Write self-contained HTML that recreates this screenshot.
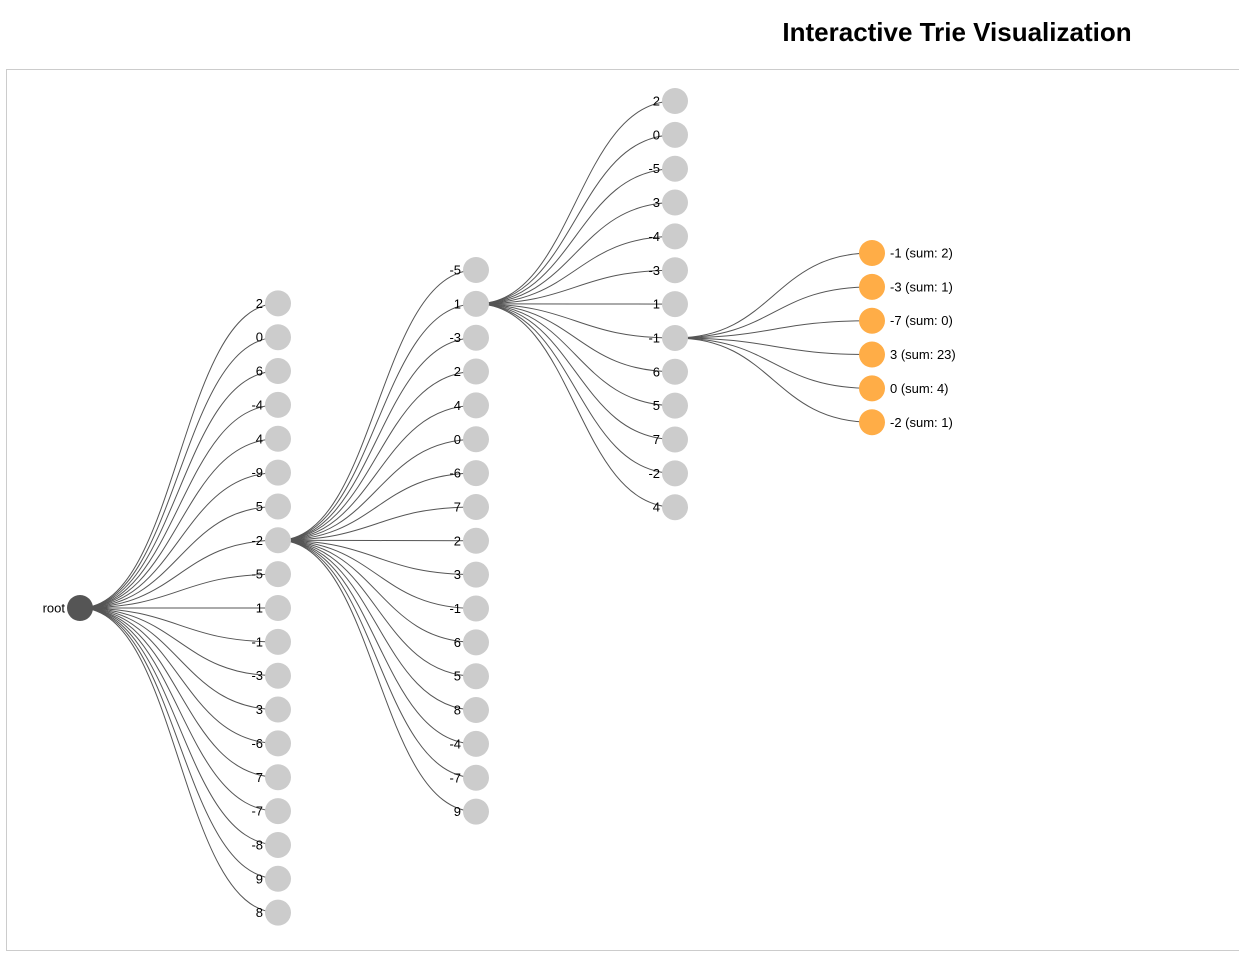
<!DOCTYPE html>
<html><head><meta charset="utf-8"><style>
body{margin:0;background:#fff;width:1239px;height:978px;overflow:hidden;font-family:"Liberation Sans",sans-serif}
#title{position:absolute;left:0;width:1239px;top:17px;text-align:center;padding-left:675px;box-sizing:border-box;font-size:26px;font-weight:bold;color:#000}
#box{position:absolute;left:6px;top:69px;width:1240px;height:882px;border:1px solid #ccc;box-sizing:border-box}
svg{position:absolute;left:0;top:0}
text{font-family:"Liberation Sans",sans-serif;font-size:13px;fill:#000}
</style></head><body>
<div id="title">Interactive Trie Visualization</div>
<div id="box"></div>
<svg id="svg" width="1239" height="978"></svg>
<script>
const level1 = ["2","0","6","-4","4","-9","5","-2","-5","1","-1","-3","3","-6","7","-7","-8","9","8"];
const level2 = ["-5","1","-3","2","4","0","-6","7","2","3","-1","6","5","8","-4","-7","9"];
const level3 = ["2","0","-5","3","-4","-3","1","-1","6","5","7","-2","4"];
const level4 = ["-1","-3","-7","3","0","-2"];
const level4Sums = [2,1,0,23,4,1];
const parentIndex = [7,1,7];

const NS="http://www.w3.org/2000/svg", svg=document.getElementById('svg');
const colX=[80,278,476,675,872], spacing=33.85, rootY=608;
function ys(n,first){return Array.from({length:n},(_,i)=>first+i*spacing);}
function el(t,a){const e=document.createElementNS(NS,t);for(const k in a)e.setAttribute(k,a[k]);return e;}
const gL=el('g',{}),gN=el('g',{});svg.appendChild(gL);svg.appendChild(gN);
function link(px,py,cx,cy){const mx=(px+cx)/2;const p=el('path',{d:`M${px},${py}C${mx},${py} ${mx},${cy} ${cx},${cy}`,fill:'none',stroke:'#555','stroke-width':1});


gL.appendChild(p);}
function node(x,y,fill,label,right){const c=el('circle',{cx:x,cy:y,r:13,fill:fill});


gN.appendChild(c);
const t=el('text',{x:right?x+18:x-15,y:y+4.5,'text-anchor':right?'start':'end'});t.textContent=label;


gN.appendChild(t);}
const levels=[level1,level2,level3,level4];
const Y=[ys(level1.length,rootY-(level1.length-1)/2*spacing), ys(level2.length,270), ys(level3.length,101), ys(level4.length,253)];
const parents=[[colX[0],rootY]];
for(let l=1;l<4;l++)parents.push([colX[l],Y[l-1][parentIndex[l-1]]]);
for(let l=0;l<4;l++){const [px,pyy]=parents[l];Y[l].forEach(y=>link(px,pyy,colX[l+1],y));}
node(colX[0],rootY,'#555','root',false);
for(let l=0;l<3;l++)levels[l].forEach((v,i)=>node(colX[l+1],Y[l][i],'#ccc',v,false));
level4.forEach((v,i)=>node(colX[4],Y[3][i],'#ffad47',`${v} (sum: ${level4Sums[i]})`,true));
</script></body></html>
